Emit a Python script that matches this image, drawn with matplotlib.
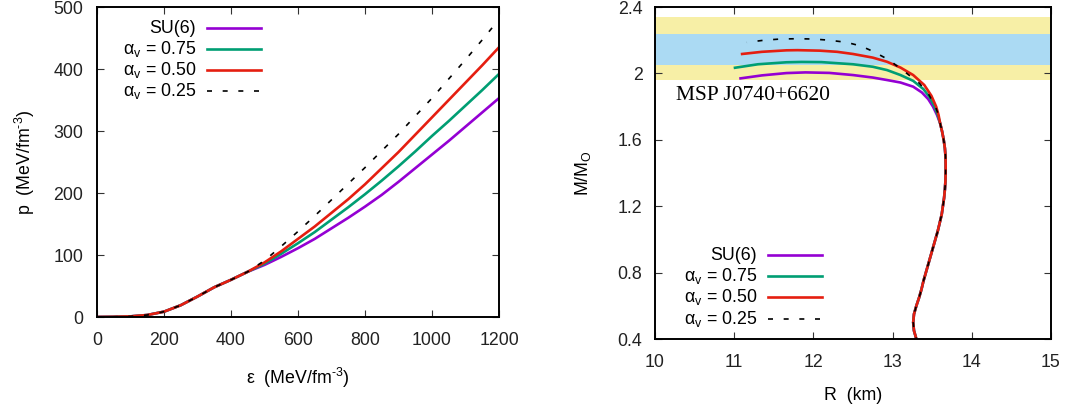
import matplotlib
matplotlib.use('Agg')
import matplotlib.pyplot as plt

plt.rcParams['font.family'] = ['Liberation Sans', 'DejaVu Sans']
plt.rcParams['mathtext.fontset'] = 'custom'
plt.rcParams['mathtext.rm'] = 'Liberation Sans'
plt.rcParams['mathtext.it'] = 'Liberation Sans:italic'
plt.rcParams['font.size'] = 12.8

# colours of the four models
c_su6 = '#9400D3'
c_075 = '#009E73'
c_050 = '#E51E10'
c_025 = 'black'

labels = ['SU(6)', 'α$_\\mathrm{v}$ = 0.75', 'α$_\\mathrm{v}$ = 0.50', 'α$_\\mathrm{v}$ = 0.25']

# equation of state, p(eps) in MeV/fm^3
eps = [0, 50, 100, 150, 200, 250, 300, 350, 400, 450,
       500, 550, 600, 650, 700, 750, 800, 850, 900, 950, 1000, 1050, 1100, 1150, 1200]
p_low = [0, 0.3, 1.0, 3.2, 8.6, 19, 33, 48, 60, 73]
p_su6 = p_low + [84, 97, 111, 126, 143, 160, 178, 197, 218, 240, 262, 284, 307, 330, 353]
p_075 = p_low + [86, 102, 119, 137, 157, 177, 198, 220, 243, 267, 292, 316, 341, 366, 392]
p_050 = p_low + [88, 106, 126, 146, 168, 190, 214, 240, 266, 294, 322, 350, 378, 406, 435]
p_025 = p_low + [91, 114, 138, 163, 189, 215, 241, 268, 295, 324, 353, 384, 415, 447, 480]

# mass-radius, common low-mass branch
R_low = [13.31, 13.30, 13.27, 13.26, 13.27, 13.30, 13.335, 13.365, 13.39, 13.42, 13.45, 13.48,
         13.51, 13.54, 13.57, 13.595, 13.62, 13.635, 13.65, 13.66, 13.667, 13.67, 13.67,
         13.668, 13.66, 13.645, 13.625, 13.60]
M_low = [0.38, 0.40, 0.45, 0.50, 0.55, 0.60, 0.65, 0.70, 0.75, 0.80, 0.85, 0.90,
         0.95, 1.00, 1.05, 1.10, 1.15, 1.20, 1.25, 1.30, 1.35, 1.40, 1.45,
         1.50, 1.55, 1.60, 1.65, 1.70]
# high-mass branches, from the common branch out to the maximum-mass end
R_su6 = [13.56, 13.51, 13.45, 13.37, 13.26, 13.10, 12.93, 12.75, 12.50, 12.20, 11.90, 11.66, 11.35, 11.08]
M_su6 = [1.75, 1.80, 1.845, 1.885, 1.92, 1.945, 1.96, 1.975, 1.99, 2.003, 2.006, 2.002, 1.988, 1.970]
R_075 = [13.57, 13.53, 13.47, 13.39, 13.26, 13.10, 12.93, 12.75, 12.50, 12.10, 11.85, 11.66, 11.30, 11.01]
M_075 = [1.75, 1.80, 1.855, 1.905, 1.955, 1.99, 2.02, 2.04, 2.055, 2.068, 2.069, 2.067, 2.055, 2.034]
R_050 = [13.58, 13.55, 13.49, 13.40, 13.26, 13.10, 12.93, 12.75, 12.50, 12.30, 12.08, 11.80, 11.66, 11.35, 11.10]
M_050 = [1.75, 1.80, 1.865, 1.93, 1.99, 2.035, 2.07, 2.095, 2.117, 2.13, 2.137, 2.14, 2.139, 2.13, 2.117]
R_025 = [13.58, 13.54, 13.46, 13.34, 13.18, 13.01, 12.90, 12.76, 12.60, 12.42, 12.20, 12.00, 11.80, 11.58, 11.38, 11.16]
M_025 = [1.75, 1.80, 1.87, 1.94, 2.00, 2.061, 2.095, 2.131, 2.165, 2.187, 2.20, 2.207, 2.209, 2.207, 2.20, 2.187]

# MSP J0740+6620 mass bands
band95 = (1.96, 2.34)
band68 = (2.05, 2.24)

styles = [dict(color=c_su6, lw=1.9), dict(color=c_075, lw=1.9),
          dict(color=c_050, lw=1.9), dict(color=c_025, lw=1.2, ls=(0, (3.0, 6.4)))]


def frame(ax):
    for s in ax.spines.values():
        s.set_linewidth(1.4)
    ax.tick_params(direction='in', length=5, width=0.8, top=True, right=True,
                   colors='#333333', labelcolor='#222222')


def key(ax, x_text, x0, x1, ys):
    # gnuplot-style key: right-aligned text with sample to its right
    for lab, st, y in zip(labels, styles, ys):
        ax.text(x_text, y, lab, transform=ax.transAxes, ha='right', va='center')
        ax.plot([x0, x1], [y, y], transform=ax.transAxes, **st)


fig = plt.figure(figsize=(10.92, 4.12), dpi=100)

ax1 = fig.add_axes([97 / 1092, 95 / 412, 402 / 1092, 310 / 412])
for p, st in zip([p_su6, p_075, p_050, p_025], styles):
    ax1.plot(eps, p, **st)
ax1.set_xlim(0, 1200)
ax1.set_ylim(0, 500)
ax1.set_xticks(range(0, 1201, 200))
ax1.set_yticks(range(0, 501, 100))
frame(ax1)
ax1.tick_params(axis='x', pad=11)
ax1.tick_params(axis='y', pad=10)
ax1.set_xlabel('ε  (MeV/fm$^{\\mathrm{‐3}}$)', labelpad=12)
ax1.set_ylabel('p  (MeV/fm$^{\\mathrm{‐3}}$)', labelpad=12)
key(ax1, 0.246, 0.274, 0.408, [0.932, 0.865, 0.798, 0.730])

ax2 = fig.add_axes([655 / 1092, 73 / 412, 396 / 1092, 332 / 412])
ax2.axhspan(*band95, color='#F7EFA6', lw=0, zorder=0)
ax2.axhspan(*band68, color='#ABDAF3', lw=0, zorder=0)
for R, M, st in zip([R_su6, R_075, R_050, R_025], [M_su6, M_075, M_050, M_025], styles):
    ax2.plot(R_low + R, M_low + M, **st)
ax2.text(10.27, 1.866, 'MSP J0740+6620', family='Liberation Serif', fontsize=15.5,
         ha='left', va='center')
ax2.set_xlim(10, 15)
ax2.set_ylim(0.4, 2.4)
ax2.set_xticks(range(10, 16))
ax2.set_yticks([0.4, 0.8, 1.2, 1.6, 2.0, 2.4])
ax2.set_yticklabels(['0.4', '0.8', '1.2', '1.6', '2', '2.4'])
frame(ax2)
ax2.tick_params(axis='x', pad=11)
ax2.tick_params(axis='y', pad=9)
ax2.set_xlabel('R  (km)', labelpad=11)
ax2.set_ylabel('M/M$_\\mathrm{O}$', labelpad=18)
key(ax2, 0.258, 0.285, 0.421, [0.253, 0.190, 0.126, 0.060])

fig.savefig('out.png', dpi=100)
